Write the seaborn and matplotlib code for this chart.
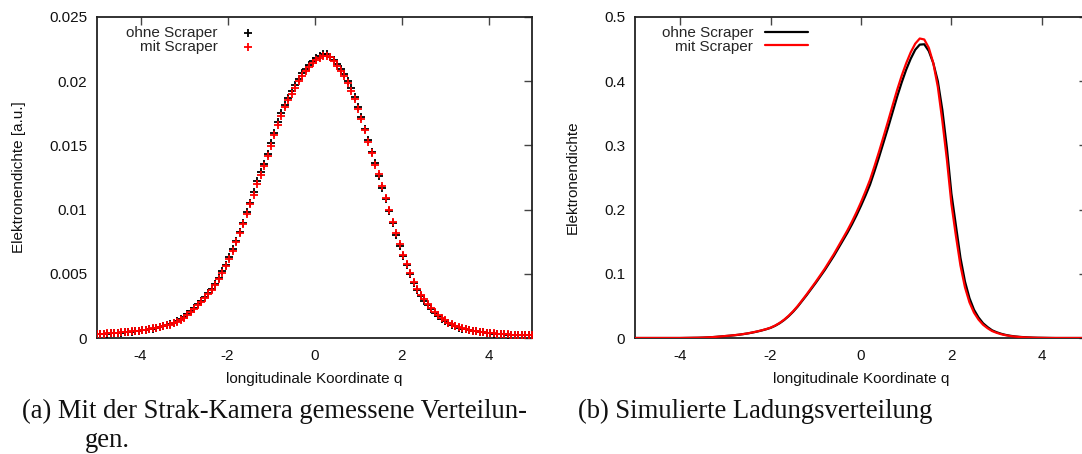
import numpy as np
import pandas as pd
import matplotlib
matplotlib.use("Agg")
import matplotlib.pyplot as plt
import seaborn as sns

# ---------------- data ----------------
# (a) measured distributions (streak camera), grid of camera samples
q_meas = np.round(np.linspace(-5.0, 5.0, 126), 3)
ohne_meas = [
    0.00030, 0.00032, 0.00034, 0.00035, 0.00036, 0.00038, 0.00040, 0.00042, 0.00045, 0.00047,
    0.00050, 0.00053, 0.00056, 0.00060, 0.00064, 0.00068, 0.00073, 0.00079, 0.00085, 0.00092,
    0.00099, 0.00108, 0.00119, 0.00130, 0.00146, 0.00163, 0.00185, 0.00210, 0.00234, 0.00261,
    0.00289, 0.00316, 0.00347, 0.00382, 0.00421, 0.00467, 0.00518, 0.00570, 0.00628, 0.00690,
    0.00757, 0.00828, 0.00897, 0.00980, 0.01055, 0.01137, 0.01220, 0.01290, 0.01357, 0.01435,
    0.01515, 0.01600, 0.01680, 0.01750, 0.01818, 0.01870, 0.01920, 0.01970, 0.02020, 0.02060,
    0.02097, 0.02128, 0.02158, 0.02182, 0.02198, 0.02208, 0.02208, 0.02190, 0.02165, 0.02135,
    0.02095, 0.02055, 0.02005, 0.01945, 0.01880, 0.01800, 0.01720, 0.01630, 0.01540, 0.01450,
    0.01360, 0.01265, 0.01170, 0.01080, 0.00990, 0.00895, 0.00805, 0.00720, 0.00640, 0.00565,
    0.00500, 0.00430, 0.00375, 0.00328, 0.00290, 0.00255, 0.00225, 0.00197, 0.00172, 0.00150,
    0.00132, 0.00115, 0.00102, 0.00090, 0.00080, 0.00073, 0.00067, 0.00061, 0.00056, 0.00051,
    0.00047, 0.00044, 0.00041, 0.00038, 0.00035, 0.00033, 0.00031, 0.00029, 0.00027, 0.00026,
    0.00025, 0.00024, 0.00023, 0.00022, 0.00021, 0.00020,
]
mit_meas = [
    0.00031, 0.00033, 0.00035, 0.00036, 0.00037, 0.00039, 0.00041, 0.00043, 0.00046, 0.00048,
    0.00051, 0.00054, 0.00057, 0.00061, 0.00065, 0.00069, 0.00074, 0.00080, 0.00086, 0.00093,
    0.00100, 0.00103, 0.00114, 0.00125, 0.00141, 0.00158, 0.00180, 0.00205, 0.00229, 0.00256,
    0.00284, 0.00311, 0.00342, 0.00377, 0.00416, 0.00462, 0.00506, 0.00558, 0.00616, 0.00678,
    0.00745, 0.00816, 0.00885, 0.00968, 0.01043, 0.01117, 0.01200, 0.01270, 0.01337, 0.01415,
    0.01495, 0.01580, 0.01660, 0.01730, 0.01798, 0.01850, 0.01900, 0.01950, 0.02000, 0.02040,
    0.02077, 0.02113, 0.02143, 0.02167, 0.02183, 0.02195, 0.02200, 0.02190, 0.02160, 0.02117,
    0.02077, 0.02037, 0.01987, 0.01927, 0.01862, 0.01782, 0.01702, 0.01620, 0.01530, 0.01440,
    0.01350, 0.01275, 0.01180, 0.01090, 0.01000, 0.00905, 0.00815, 0.00730, 0.00650, 0.00575,
    0.00510, 0.00440, 0.00385, 0.00338, 0.00300, 0.00265, 0.00230, 0.00202, 0.00177, 0.00155,
    0.00137, 0.00120, 0.00107, 0.00095, 0.00085, 0.00078, 0.00068, 0.00062, 0.00057, 0.00052,
    0.00048, 0.00045, 0.00042, 0.00039, 0.00036, 0.00034, 0.00032, 0.00030, 0.00028, 0.00027,
    0.00026, 0.00025, 0.00024, 0.00023, 0.00022, 0.00021,
]

# (b) simulated charge distributions, q = -5.0 ... 5.0 in steps of 0.1
q_sim = np.round(np.arange(-5.0, 5.0001, 0.1), 2)
ohne_sim = [
    0, 0, 0, 0, 0, 0, 0, 0, 0, 0,
    0.0000, 0.0001, 0.0002, 0.0003, 0.0004, 0.0006, 0.0009, 0.0013, 0.0018, 0.0024,
    0.0030, 0.0036, 0.0043, 0.0051, 0.0061, 0.0072, 0.0085, 0.0100, 0.0117, 0.0136,
    0.0158, 0.0190, 0.0230, 0.0280, 0.0340, 0.0410, 0.0490, 0.0580, 0.0670, 0.0765,
    0.0860, 0.0960, 0.1060, 0.1170, 0.1280, 0.1400, 0.1520, 0.1640, 0.1770, 0.1910,
    0.2060, 0.2220, 0.2390, 0.2600, 0.2820, 0.3050, 0.3280, 0.3520, 0.3760, 0.3980,
    0.4180, 0.4350, 0.4490, 0.4570, 0.4575, 0.4470, 0.4280, 0.4000, 0.3550, 0.2960,
    0.2250, 0.1750, 0.1250, 0.0880, 0.0620, 0.0440, 0.0320, 0.0230, 0.0170, 0.0120,
    0.0090, 0.0066, 0.0048, 0.0035, 0.0025, 0.0018, 0.0013, 0.0009, 0.0006, 0.0004,
    0.0003, 0.0002, 0.0001, 0, 0, 0, 0, 0, 0, 0,
    0,
]
mit_sim = [
    0, 0, 0, 0, 0, 0, 0, 0, 0, 0,
    0.0000, 0.0001, 0.0002, 0.0003, 0.0004, 0.0006, 0.0009, 0.0013, 0.0018, 0.0024,
    0.0031, 0.0037, 0.0044, 0.0052, 0.0062, 0.0073, 0.0087, 0.0102, 0.0119, 0.0138,
    0.0161, 0.0194, 0.0235, 0.0286, 0.0347, 0.0418, 0.0499, 0.0590, 0.0682, 0.0779,
    0.0876, 0.0978, 0.1081, 0.1194, 0.1307, 0.1430, 0.1553, 0.1677, 0.1812, 0.1958,
    0.2115, 0.2285, 0.2465, 0.2680, 0.2905, 0.3140, 0.3380, 0.3625, 0.3865, 0.4085,
    0.4280, 0.4450, 0.4585, 0.4665, 0.4650, 0.4520, 0.4280, 0.3910, 0.3380, 0.2780,
    0.2090, 0.1590, 0.1130, 0.0790, 0.0555, 0.0395, 0.0287, 0.0207, 0.0152, 0.0108,
    0.0081, 0.0059, 0.0043, 0.0031, 0.0022, 0.0016, 0.0011, 0.0008, 0.0005, 0.0003,
    0.0002, 0.0001, 0, 0, 0, 0, 0, 0, 0, 0,
    0,
]

series_names = ["ohne Scraper", "mit Scraper"]
series_colors = ["#000000", "#ff0000"]
x_ticks = [-4, -2, 0, 2, 4]
x_ticklabels = ["-4", "-2", "0", "2", "4"]
ya_ticks = [0, 0.005, 0.01, 0.015, 0.02, 0.025]
ya_ticklabels = ["0", "0.005", "0.01", "0.015", "0.02", "0.025"]
yb_ticks = [0, 0.1, 0.2, 0.3, 0.4, 0.5]
yb_ticklabels = ["0", "0.1", "0.2", "0.3", "0.4", "0.5"]
xlabel = "longitudinale Koordinate q"
ylabel_a = "Elektronendichte [a.u.]"
ylabel_b = "Elektronendichte"
caption_a1 = "(a) Mit der Strak-Kamera gemessene Verteilun-"
caption_a2 = "gen."
caption_b = "(b) Simulierte Ladungsverteilung"

# ---------------- style ----------------
sns.set_theme(style="white")
plt.rcParams["font.family"] = ["Liberation Sans", "DejaVu Sans"]
plt.rcParams["axes.edgecolor"] = "#222222"
plt.rcParams["axes.linewidth"] = 1.3

fig = plt.figure(figsize=(10.82, 4.54), dpi=100)
W, H = 1082.0, 454.0
ax_a = fig.add_axes([97 / W, (H - 338) / H, 435 / W, 321 / H])
ax_b = fig.add_axes([635 / W, (H - 338) / H, 452 / W, 321 / H])

df_a = pd.concat([
    pd.DataFrame({"q": q_meas, "v": ohne_meas, "s": series_names[0]}),
    pd.DataFrame({"q": q_meas, "v": mit_meas, "s": series_names[1]}),
])
df_b = pd.concat([
    pd.DataFrame({"q": q_sim, "v": ohne_sim, "s": series_names[0]}),
    pd.DataFrame({"q": q_sim, "v": mit_sim, "s": series_names[1]}),
])

for name, col in zip(series_names, series_colors):
    sns.scatterplot(data=df_a[df_a["s"] == name], x="q", y="v", marker="+",
                    color=col, s=28, linewidth=1.3, label=name, ax=ax_a,
                    zorder=3)
    sns.lineplot(data=df_b[df_b["s"] == name], x="q", y="v", color=col,
                 linewidth=1.6, label=name, ax=ax_b, zorder=3)

for ax, yt, ytl, ylim in [(ax_a, ya_ticks, ya_ticklabels, (0, 0.025)),
                          (ax_b, yb_ticks, yb_ticklabels, (0, 0.5))]:
    ax.set_xlim(-5, 5)
    ax.set_ylim(*ylim)
    ax.set_xticks(x_ticks)
    ax.set_xticklabels(x_ticklabels)
    ax.set_yticks(yt)
    ax.set_yticklabels(ytl)
    ax.tick_params(direction="in", top=True, right=True, length=6, width=1.0,
                   color="#444444", labelsize=11, labelcolor="#111111")
    ax.tick_params(axis="y", pad=7)
    ax.tick_params(axis="x", pad=8)
    ax.set_xlabel(xlabel, fontsize=11, color="#111111")
    ax.xaxis.set_label_coords(0.5, -0.107)
    for sp in ax.spines.values():
        sp.set_visible(True)
        sp.set_color("#222222")
        sp.set_linewidth(1.3)

ax_a.set_ylabel(ylabel_a, fontsize=11, color="#111111")
ax_a.yaxis.set_label_coords(-0.164, 0.5)
ax_b.set_ylabel(ylabel_b, fontsize=11, color="#111111")
ax_b.yaxis.set_label_coords(-0.123, 0.5)

leg_a = ax_a.legend(loc="upper right", bbox_to_anchor=(0.383, 0.972),
                    frameon=False, markerfirst=False, borderaxespad=0,
                    borderpad=0, handlelength=2.0, handletextpad=1.0,
                    labelspacing=-0.02, fontsize=11)
leg_b = ax_b.legend(loc="upper right", bbox_to_anchor=(0.383, 0.972),
                    frameon=False, markerfirst=False, borderaxespad=0,
                    borderpad=0, handlelength=2.8, handletextpad=0.8,
                    labelspacing=-0.02, fontsize=11)

serif = ["Liberation Serif", "DejaVu Serif"]
cap_size = 19.2
fig.text(22 / W, 1 - 418 / H, caption_a1, family=serif, fontsize=cap_size,
         ha="left", va="baseline", color="#111111")
fig.text(85 / W, 1 - 447 / H, caption_a2, family=serif, fontsize=cap_size,
         ha="left", va="baseline", color="#111111")
fig.text(578 / W, 1 - 418 / H, caption_b, family=serif, fontsize=cap_size,
         ha="left", va="baseline", color="#111111")

fig.savefig("out.png", dpi=100)
